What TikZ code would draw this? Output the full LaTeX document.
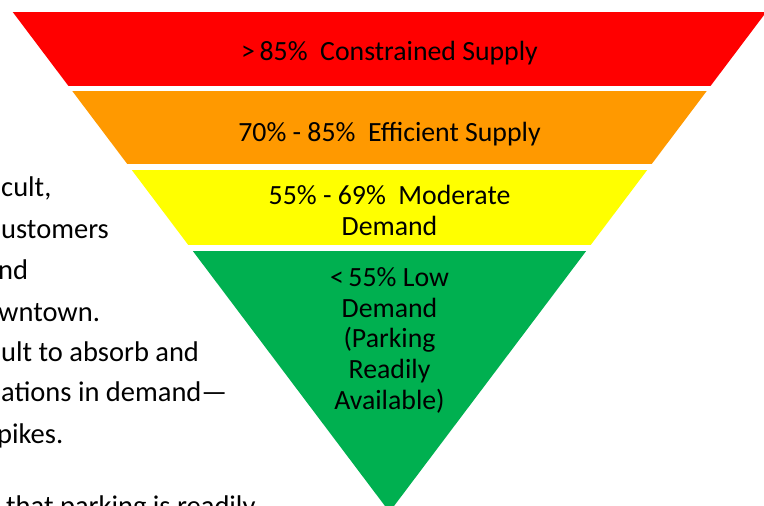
\documentclass[tikz,border=0pt]{standalone}
\usepackage{fontspec}
\setmainfont{Carlito}
\usetikzlibrary{positioning}
\definecolor{bandred}{RGB}{255,0,0}
\definecolor{bandorange}{RGB}{255,153,0}
\definecolor{bandyellow}{RGB}{255,255,0}
\definecolor{bandgreen}{RGB}{0,176,80}

\begin{document}
\begin{tikzpicture}[x=1pt, y=-1pt,
    bandlabel/.style={anchor=base, inner sep=0pt, align=center,
        font=\fontsize{27.8}{30.7}\selectfont},
    sidetext/.style={anchor=base west, inner sep=0pt,
        font=\fontsize{28.5}{40.7}\selectfont}]
\clip (0,0) rectangle (764,506);

% Funnel corners
\coordinate (topleft) at (12.5,11.7);
\coordinate (topright) at (766.5,11.7);
\coordinate (apex) at (389.5,512);

% Bands, cut out of the funnel
\begin{scope}
\clip (topleft) -- (topright) -- (apex) -- cycle;
\foreach \ytop/\ybot/\col in {11.7/85.5/bandred, 91/164/bandorange,
    170/245/bandyellow, 250.7/512/bandgreen} {
    \fill[\col] (0,\ytop) rectangle (764,\ybot);
}
\end{scope}

% Band labels (base = last line)
\node[bandlabel] (constrained) at (389.5,60.7) {>\,85\%\ \ Constrained Supply};
\node[bandlabel] (efficient) at (389.5,141.7) {70\% - 85\%\ \ Efficient Supply};
\node[bandlabel] (moderate) at (389.5,235) {55\% - 69\%\ \ Moderate\\Demand};
\node[bandlabel] (low) at (389.5,409.3) {<\,55\% Low\\Demand\\(Parking\\Readily\\Available)};

% Text beside the funnel
\foreach \txt/\xx/\yy [count=\i] in {{cult,}/1/196.7, ustomers/1/238.3,
    nd/-2/279.3, wntown./-2/321.7, ult to absorb and/1/361.7,
    ations in demand—/1/401.7, pikes./-3/443.3,
    that parking is readily/6/515} {
    \node[sidetext] (side\i) at (\xx,\yy) {\txt};
}
\end{tikzpicture}
\end{document}
